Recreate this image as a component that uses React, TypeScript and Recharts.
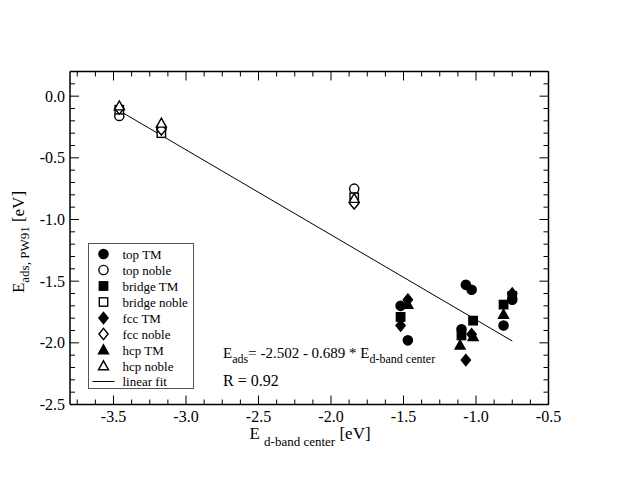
import React from 'react';
import { ScatterChart, Scatter, XAxis, YAxis } from 'recharts';

// d-band center [eV] vs adsorption energy [eV], as [x, y] pairs
const topTM = [
  [-1.52, -1.7], [-1.47, -1.98], [-1.07, -1.53], [-1.03, -1.57],
  [-1.1, -1.89], [-0.81, -1.86], [-0.75, -1.65],
];
const topNoble = [[-3.46, -0.16], [-3.17, -0.26], [-1.84, -0.75]];
const bridgeTM = [
  [-1.52, -1.79], [-1.02, -1.82], [-1.1, -1.94], [-0.81, -1.69], [-0.75, -1.62],
];
const bridgeNoble = [[-3.46, -0.11], [-3.17, -0.3], [-1.84, -0.82]];
const fccTM = [
  [-1.52, -1.86], [-1.47, -1.65], [-1.07, -2.14], [-1.03, -1.93], [-0.75, -1.6],
];
const fccNoble = [[-3.46, -0.1], [-3.17, -0.27], [-1.84, -0.87]];
const hcpTM = [[-1.47, -1.69], [-1.11, -2.02], [-1.02, -1.95], [-0.81, -1.77]];
const hcpNoble = [[-3.46, -0.08], [-3.17, -0.22], [-1.84, -0.83]];

// linear fit E_ads = a + b * E_d
const fitA = -2.502;
const fitB = -0.689;
const fitRange = [-3.46, -0.75];

const xMajor = [-3.5, -3.0, -2.5, -2.0, -1.5, -1.0, -0.5];
const xMinor = [
  -3.75, -3.625, -3.375, -3.25, -3.125, -2.875, -2.75, -2.625, -2.375, -2.25,
  -2.125, -1.875, -1.75, -1.625, -1.375, -1.25, -1.125, -0.875, -0.75, -0.625,
];
const yMajor = [-2.5, -2.0, -1.5, -1.0, -0.5, 0.0];
const yMinor = [
  -2.4, -2.3, -2.2, -2.1, -1.9, -1.8, -1.7, -1.6, -1.4, -1.3, -1.2, -1.1,
  -0.9, -0.8, -0.7, -0.6, -0.4, -0.3, -0.2, -0.1, 0.1,
];

const FONT = '"Liberation Serif", "Times New Roman", serif';

type Kind = 'circle' | 'square' | 'diamond' | 'triangle';

function Marker({ kind, filled, cx, cy }: { kind: Kind; filled: boolean; cx: number; cy: number }) {
  const fill = filled ? '#000' : '#fff';
  const common = { fill, stroke: '#000', strokeWidth: 1.4 };
  if (kind === 'circle') return <circle cx={cx} cy={cy} r={4.6} {...common} />;
  if (kind === 'square') return <rect x={cx - 4.2} y={cy - 4.2} width={8.4} height={8.4} {...common} />;
  if (kind === 'diamond')
    return <polygon points={`${cx},${cy - 5.6} ${cx + 4.6},${cy} ${cx},${cy + 5.6} ${cx - 4.6},${cy}`} {...common} />;
  return <polygon points={`${cx},${cy - 5.2} ${cx + 5},${cy + 3.8} ${cx - 5},${cy + 3.8}`} {...common} />;
}

const toPts = (arr: number[][]) => arr.map(([x, y]) => ({ x, y }));

const series: { name: string; data: number[][]; kind: Kind; filled: boolean }[] = [
  { name: 'top TM', data: topTM, kind: 'circle', filled: true },
  { name: 'top noble', data: topNoble, kind: 'circle', filled: false },
  { name: 'bridge TM', data: bridgeTM, kind: 'square', filled: true },
  { name: 'bridge noble', data: bridgeNoble, kind: 'square', filled: false },
  { name: 'fcc TM', data: fccTM, kind: 'diamond', filled: true },
  { name: 'fcc noble', data: fccNoble, kind: 'diamond', filled: false },
  { name: 'hcp TM', data: hcpTM, kind: 'triangle', filled: true },
  { name: 'hcp noble', data: hcpNoble, kind: 'triangle', filled: false },
];

const fitData = fitRange.map((x) => ({ x, y: fitA + fitB * x }));

const fmt = (v: number) => v.toFixed(1);

const BottomTick = ({ x, y, payload }: any) => {
  const major = xMajor.includes(payload.value);
  return (
    <g>
      <line x1={x} y1={y} x2={x} y2={y - (major ? 9 : 5)} stroke="#000" />
      {major && (
        <text x={x} y={y + 17} textAnchor="middle" fontSize={16} fontFamily={FONT} fill="#000">
          {fmt(payload.value)}
        </text>
      )}
    </g>
  );
};

const TopTick = ({ x, y, payload }: any) => {
  const major = xMajor.includes(payload.value);
  return <line x1={x} y1={y} x2={x} y2={y + (major ? 9 : 5)} stroke="#000" />;
};

const LeftTick = ({ x, y, payload }: any) => {
  const major = yMajor.includes(payload.value);
  return (
    <g>
      <line x1={x} y1={y} x2={x + (major ? 9 : 5)} y2={y} stroke="#000" />
      {major && (
        <text x={x - 5} y={y + 5.5} textAnchor="end" fontSize={16} fontFamily={FONT} fill="#000">
          {fmt(payload.value)}
        </text>
      )}
    </g>
  );
};

const RightTick = ({ x, y, payload }: any) => {
  const major = yMajor.includes(payload.value);
  return <line x1={x} y1={y} x2={x - (major ? 9 : 5)} y2={y} stroke="#000" />;
};

function LegendBox() {
  const left = 88.5;
  const top = 243.5;
  const rowH = 16;
  return (
    <g fontFamily={FONT} fontSize={13}>
      <rect x={left} y={top} width={105} height={145} fill="#fff" stroke="#555" strokeWidth={1} />
      {series.map((s, i) => (
        <g key={s.name}>
          <Marker kind={s.kind} filled={s.filled} cx={left + 15} cy={top + 10.5 + i * rowH} />
          <text x={left + 34} y={top + 15 + i * rowH} fill="#000">
            {s.name}
          </text>
        </g>
      ))}
      <line x1={left + 4} x2={left + 26} y1={top + 138} y2={top + 138} stroke="#000" />
      <text x={left + 34} y={top + 142.5} fill="#000">
        linear fit
      </text>
    </g>
  );
}

export default function App() {
  const allX = [...xMinor, ...xMajor].sort((a, b) => a - b);
  const allY = [...yMinor, ...yMajor].sort((a, b) => a - b);
  return (
    <div style={{ position: 'absolute', left: 0, top: 0, width: 635, height: 491, background: '#fff' }}>
      <ScatterChart width={635} height={491} margin={{ top: 70.5, right: 85.5, bottom: 56.5, left: 30 }}>
        <XAxis
          type="number"
          dataKey="x"
          domain={[-3.8, -0.5]}
          ticks={allX}
          interval={0}
          tickSize={0}
          tickMargin={0}
          height={30}
          axisLine={{ stroke: '#000', strokeWidth: 1.5 }}
          tick={<BottomTick />}
          allowDataOverflow
        />
        <XAxis
          xAxisId="top"
          orientation="top"
          type="number"
          dataKey="x"
          domain={[-3.8, -0.5]}
          ticks={allX}
          interval={0}
          tickSize={0}
          tickMargin={0}
          height={1}
          axisLine={{ stroke: '#000', strokeWidth: 1.5 }}
          tick={<TopTick />}
          allowDataOverflow
        />
        <YAxis
          type="number"
          dataKey="y"
          domain={[-2.5, 0.2]}
          ticks={allY}
          interval={0}
          tickSize={0}
          tickMargin={0}
          width={40}
          axisLine={{ stroke: '#000', strokeWidth: 1.5 }}
          tick={<LeftTick />}
          allowDataOverflow
        />
        <YAxis
          yAxisId="right"
          orientation="right"
          type="number"
          dataKey="y"
          domain={[-2.5, 0.2]}
          ticks={allY}
          interval={0}
          tickSize={0}
          tickMargin={0}
          width={1}
          axisLine={{ stroke: '#000', strokeWidth: 1.5 }}
          tick={<RightTick />}
          allowDataOverflow
        />
        <Scatter
          name="linear fit"
          data={fitData}
          line={{ stroke: '#000', strokeWidth: 1 }}
          shape={() => <g />}
          isAnimationActive={false}
        />
        {series.map((s) => (
          <Scatter
            key={s.name}
            name={s.name}
            data={toPts(s.data)}
            shape={(p: any) => <Marker kind={s.kind} filled={s.filled} cx={p.cx} cy={p.cy} />}
            isAnimationActive={false}
          />
        ))}
        <LegendBox />
        <text x={223} y={358} fontFamily={FONT} fontSize={15} fill="#000">
          E<tspan fontSize={12} dy={5}>ads</tspan>
          <tspan fontSize={15} dy={-5}>= -2.502 - 0.689 * E</tspan>
          <tspan fontSize={12} dy={5}>d-band center</tspan>
        </text>
        <text x={223} y={386} fontFamily={FONT} fontSize={16} fill="#000">
          R = 0.92
        </text>
        <text x={310} y={438.5} textAnchor="middle" fontFamily={FONT} fontSize={17} fill="#000">
          E <tspan fontSize={13} dy={7.5}>d-band center</tspan>
          <tspan fontSize={17} dy={-7.5}> [eV]</tspan>
        </text>
        <text
          transform="translate(24,242) rotate(-90)"
          textAnchor="middle"
          fontFamily={FONT}
          fontSize={17}
          fill="#000"
        >
          E<tspan fontSize={13} dy={5}>ads, PW91</tspan>
          <tspan fontSize={17} dy={-5}> [eV]</tspan>
        </text>
      </ScatterChart>
    </div>
  );
}
